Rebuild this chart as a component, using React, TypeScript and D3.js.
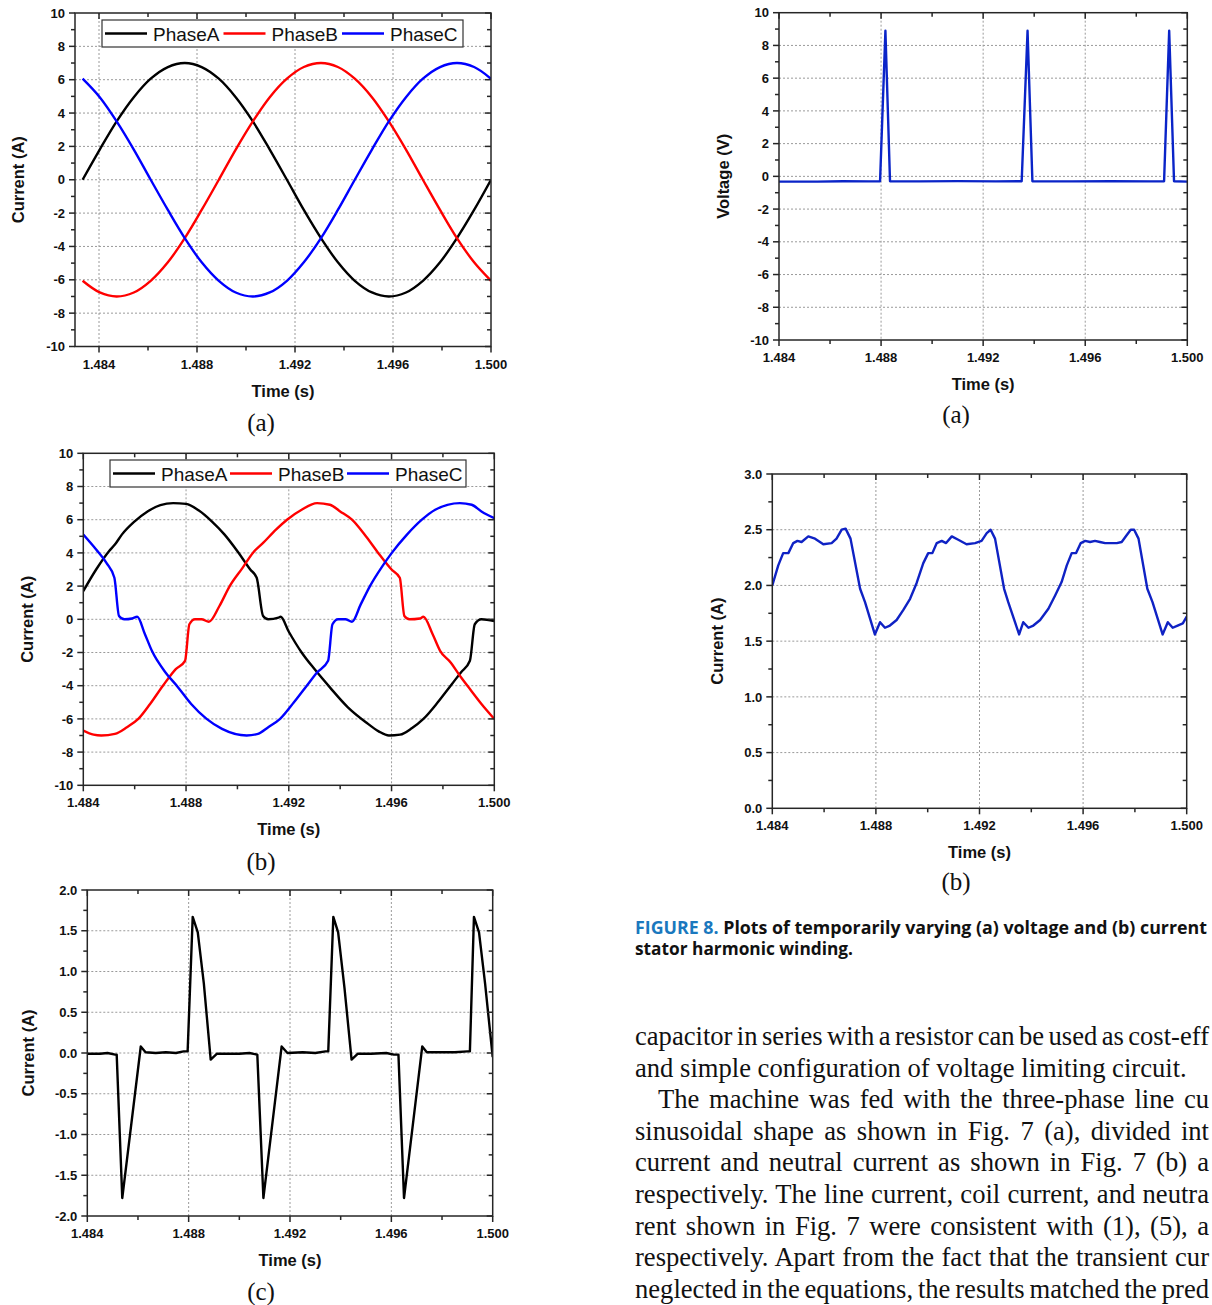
import React, { useLayoutEffect, useRef } from 'react';
import * as d3 from 'd3';

type Pt = [number, number];

// ---------- Fig. 7(a): three-phase line currents (sampled every 15 deg) ----------
const timeA: number[] = [
  1.48333, 1.48403, 1.48472, 1.48542, 1.48611, 1.48681, 1.4875, 1.48819, 1.48889,
  1.48958, 1.49028, 1.49097, 1.49167, 1.49236, 1.49306, 1.49375, 1.49444, 1.49514,
  1.49583, 1.49653, 1.49722, 1.49792, 1.49861, 1.49931, 1.5,
];
const phaseA_a: number[] = [0, 1.81, 3.5, 4.95, 6.06, 6.76, 7, 6.76, 6.06, 4.95, 3.5, 1.81, 0, -1.81, -3.5, -4.95, -6.06, -6.76, -7, -6.76, -6.06, -4.95, -3.5, -1.81, 0];
const phaseB_a: number[] = [-6.06, -6.76, -7, -6.76, -6.06, -4.95, -3.5, -1.81, 0, 1.81, 3.5, 4.95, 6.06, 6.76, 7, 6.76, 6.06, 4.95, 3.5, 1.81, 0, -1.81, -3.5, -4.95, -6.06];
const phaseC_a: number[] = [6.06, 4.95, 3.5, 1.81, 0, -1.81, -3.5, -4.95, -6.06, -6.76, -7, -6.76, -6.06, -4.95, -3.5, -1.81, 0, 1.81, 3.5, 4.95, 6.06, 6.76, 7, 6.76, 6.06];

// ---------- Fig. 7(b): coil currents ----------
const phaseA_b: Pt[] = [
  [1.484, 1.7], [1.4845, 3.0], [1.485, 4.1], [1.48523, 4.5], [1.4855, 5.1], [1.486, 5.9], [1.4865, 6.5],
  [1.487, 6.88], [1.4875, 7.0], [1.488, 6.95], [1.4885, 6.55], [1.489, 5.9], [1.4895, 5.1], [1.49, 4.1],
  [1.4905, 3.0], [1.49075, 2.5], [1.491, 0.2], [1.4912, 0.0], [1.4916, 0.1], [1.49168, 0.15],
  [1.492, -0.75], [1.4925, -2.0], [1.493, -3.0], [1.4936, -4.1], [1.4943, -5.3], [1.495, -6.2],
  [1.4955, -6.75], [1.4959, -7.0], [1.49633, -6.95], [1.4968, -6.55], [1.49724, -6.0], [1.4978, -5.0],
  [1.4983, -4.0], [1.4987, -3.2], [1.49905, -2.5], [1.49924, -0.3], [1.4995, 0.0], [1.5, -0.1],
];
const phaseB_b: Pt[] = [
  [1.484, -6.7], [1.4844, -6.95], [1.4847, -7.0], [1.48523, -6.9], [1.4857, -6.5], [1.48614, -6.0],
  [1.4866, -5.1], [1.4871, -4.0], [1.4876, -3.0], [1.48796, -2.5], [1.48813, -0.3], [1.48835, 0.0],
  [1.4886, 0.0], [1.48889, -0.15], [1.4893, 0.8], [1.4897, 2.0], [1.4902, 3.1], [1.4906, 4.0],
  [1.491, 4.6], [1.4915, 5.4], [1.49193, 6.0], [1.4925, 6.6], [1.4931, 7.0], [1.4936, 6.9],
  [1.494, 6.5], [1.49446, 6.0], [1.495, 5.0], [1.49548, 4.0], [1.496, 3.0], [1.49632, 2.5],
  [1.4965, 0.2], [1.4967, 0.0], [1.4971, 0.05], [1.49724, 0.15], [1.4976, -0.9], [1.49789, -1.9],
  [1.4983, -2.6], [1.49866, -3.4], [1.4991, -4.3], [1.4995, -5.1], [1.5, -6.0],
];
const phaseC_b: Pt[] = [
  [1.484, 5.1], [1.4845, 4.2], [1.4849, 3.4], [1.48521, 2.5], [1.48539, 0.2], [1.4856, 0.0],
  [1.4859, 0.05], [1.4861, 0.15], [1.4864, -0.9], [1.48667, -1.9], [1.4872, -3.2], [1.48764, -4.0],
  [1.4882, -5.1], [1.4888, -6.0], [1.4894, -6.6], [1.49036, -7.0], [1.4908, -6.9], [1.4912, -6.5],
  [1.49166, -6.0], [1.4922, -5.0], [1.4927, -4.0], [1.4931, -3.2], [1.49353, -2.5], [1.4937, -0.3],
  [1.49392, 0.0], [1.4942, 0.0], [1.49446, -0.15], [1.4948, 0.9], [1.49516, 2.0], [1.4956, 3.1],
  [1.49601, 4.0], [1.4966, 5.1], [1.49718, 6.0], [1.4977, 6.6], [1.49866, 7.0], [1.49912, 6.9],
  [1.4995, 6.5], [1.5, 6.1],
];

// ---------- Fig. 7(c): neutral current ----------
const neutral_c: Pt[] = [
  [1.484, -0.01], [1.4845, -0.01], [1.4848, 0.0], [1.4851, -0.02], [1.48516, -0.02], [1.48538, -1.78],
  [1.48611, 0.08], [1.4863, 0.01], [1.4867, 0.0], [1.4871, 0.01], [1.4875, 0.0], [1.4878, 0.02],
  [1.48796, 0.02], [1.48816, 1.67], [1.48836, 1.48], [1.4886, 0.85], [1.48887, -0.08], [1.48911, -0.01],
  [1.4895, -0.01], [1.49, -0.01], [1.4904, 0.0], [1.49071, -0.02], [1.49095, -1.78], [1.49167, 0.08],
  [1.4919, 0.0], [1.4925, 0.01], [1.493, 0.0], [1.4934, 0.02], [1.49351, 0.02], [1.49371, 1.67],
  [1.4939, 1.48], [1.49415, 0.8], [1.49443, -0.08], [1.49467, -0.01], [1.4952, -0.01], [1.4958, 0.0],
  [1.4961, -0.02], [1.49628, -0.02], [1.4965, -1.78], [1.49722, 0.08], [1.4974, 0.01], [1.498, 0.01],
  [1.4985, 0.01], [1.499, 0.02], [1.4991, 0.02], [1.49926, 1.67], [1.49946, 1.48], [1.4997, 0.85],
  [1.5, -0.05],
];

// ---------- Fig. 8(a): harmonic winding voltage ----------
const voltage_8a: Pt[] = [
  [1.484, -0.32], [1.4855, -0.32], [1.4865, -0.3], [1.4875, -0.31], [1.48796, -0.3], [1.48817, 8.9],
  [1.48835, -0.3], [1.4895, -0.31], [1.491, -0.29], [1.4925, -0.31], [1.49351, -0.3], [1.49374, 8.9],
  [1.49393, -0.3], [1.4955, -0.31], [1.497, -0.3], [1.4985, -0.31], [1.49909, -0.3], [1.49929, 8.9],
  [1.49948, -0.3], [1.5, -0.32],
];

// ---------- Fig. 8(b): harmonic winding current ----------
const current_8b: Pt[] = [
  [1.484, 2.0], [1.48423, 2.18], [1.48442, 2.29], [1.48462, 2.29], [1.48481, 2.38], [1.48497, 2.4],
  [1.48513, 2.39], [1.48539, 2.44], [1.48565, 2.42], [1.48597, 2.37], [1.48629, 2.38], [1.48648, 2.42],
  [1.48668, 2.5], [1.48683, 2.51], [1.48702, 2.42], [1.48739, 1.97], [1.48758, 1.85], [1.48796, 1.56],
  [1.48816, 1.67], [1.48835, 1.62], [1.48854, 1.64], [1.4888, 1.69], [1.48906, 1.78], [1.48932, 1.88],
  [1.48957, 2.02], [1.48983, 2.2], [1.49002, 2.29], [1.49018, 2.29], [1.49035, 2.38], [1.49054, 2.4],
  [1.49071, 2.38], [1.49093, 2.44], [1.49118, 2.41], [1.4915, 2.37], [1.49183, 2.38], [1.49208, 2.4],
  [1.49228, 2.47], [1.49243, 2.5], [1.4926, 2.42], [1.49295, 1.97], [1.49311, 1.85], [1.49353, 1.56],
  [1.49369, 1.67], [1.49389, 1.62], [1.49408, 1.64], [1.49434, 1.69], [1.49466, 1.79], [1.49492, 1.91],
  [1.49517, 2.03], [1.49537, 2.18], [1.49556, 2.29], [1.49573, 2.29], [1.49591, 2.38], [1.49608, 2.4],
  [1.49627, 2.39], [1.49646, 2.4], [1.49665, 2.39], [1.49685, 2.38], [1.49704, 2.38], [1.4973, 2.38],
  [1.49749, 2.39], [1.49768, 2.45], [1.49784, 2.5], [1.49797, 2.5], [1.49814, 2.42], [1.49848, 1.97],
  [1.49868, 1.85], [1.49907, 1.56], [1.49927, 1.67], [1.49946, 1.62], [1.49965, 1.64], [1.49985, 1.66],
  [1.5, 1.72],
];

// ---------- ticks & labels ----------
const xMajor: number[] = [1.484, 1.488, 1.492, 1.496, 1.5];
const xMinor: number[] = [1.486, 1.49, 1.494, 1.498];
const yMajor10: number[] = [-10, -8, -6, -4, -2, 0, 2, 4, 6, 8, 10];
const yMinor10: number[] = [-9, -7, -5, -3, -1, 1, 3, 5, 7, 9];
const yMajor2: number[] = [-2, -1.5, -1, -0.5, 0, 0.5, 1, 1.5, 2];
const yMinor2: number[] = [-1.75, -1.25, -0.75, -0.25, 0.25, 0.75, 1.25, 1.75];
const yMajor3: number[] = [0, 0.5, 1, 1.5, 2, 2.5, 3];
const yMinor3: number[] = [0.25, 0.75, 1.25, 1.75, 2.25, 2.75];
const legendLabels: string[] = ['PhaseA', 'PhaseB', 'PhaseC'];
const phaseColors: string[] = ['#000000', '#ff0000', '#0000ff'];

const captionLines: string[] = ['Plots of temporarily varying (a) voltage and (b) current', 'stator harmonic winding.'];
const bodyLines: string[] = [
  'capacitor in series with a resistor can be used as cost-eff',
  'and simple configuration of voltage limiting circuit.',
  'The machine was fed with the three-phase line cu',
  'sinusoidal shape as shown in Fig. 7 (a), divided int',
  'current and neutral current as shown in Fig. 7 (b) a',
  'respectively. The line current, coil current, and neutra',
  'rent shown in Fig. 7 were consistent with (1), (5), a',
  'respectively. Apart from the fact that the transient cur',
  'neglected in the equations, the results matched the pred',
];

const SANS = '"Liberation Sans", Arial, sans-serif';
const SERIF = '"Liberation Serif", "Times New Roman", serif';

const fmtInt = (v: number) => String(v);
const fmt1 = (v: number) => v.toFixed(1);
const fmt3 = (v: number) => v.toFixed(3);

type Series = { data: Pt[]; color: string; curve?: d3.CurveFactory; width?: number };

type ChartProps = {
  id: string;
  x0: number; x1: number; y0: number; y1: number;
  xDomain: [number, number];
  yDomain: [number, number];
  yMajor: number[]; yMinor: number[]; yFmt: (v: number) => string;
  series: Series[];
  yTitle: string; yTitleOff: number;
  legend?: { x: number; y: number; w: number; h: number; pitch: number };
  sub: string; subX: number; subY: number;
};

function Chart(p: ChartProps) {
  const xs = d3.scaleLinear().domain(p.xDomain).range([p.x0, p.x1]);
  const ys = d3.scaleLinear().domain(p.yDomain).range([p.y1, p.y0]);
  const frameStroke = '#262626';
  const gridStroke = '#9a9a9a';
  const inX = (t: number) => xs(t) > p.x0 + 1 && xs(t) < p.x1 - 1;
  const inY = (v: number) => ys(v) > p.y0 + 1 && ys(v) < p.y1 - 1;
  return (
    <g>
      <defs>
        <clipPath id={`clip-${p.id}`}>
          <rect x={p.x0} y={p.y0 - 2} width={p.x1 - p.x0} height={p.y1 - p.y0 + 4} />
        </clipPath>
      </defs>
      {xMajor.filter(inX).map((t) => (
        <line key={`gx${t}`} x1={xs(t)} x2={xs(t)} y1={p.y0} y2={p.y1} stroke={gridStroke} strokeWidth={1} strokeDasharray="2,2" />
      ))}
      {p.yMajor.filter(inY).map((v) => (
        <line key={`gy${v}`} x1={p.x0} x2={p.x1} y1={ys(v)} y2={ys(v)} stroke={gridStroke} strokeWidth={1} strokeDasharray="2,2" />
      ))}
      <g clipPath={`url(#clip-${p.id})`}>
        {p.series.map((s, i) => {
          const gen = d3.line<Pt>().x((d) => xs(d[0])).y((d) => ys(d[1])).curve(s.curve || d3.curveLinear);
          return <path key={i} d={gen(s.data) || ''} fill="none" stroke={s.color} strokeWidth={s.width || 2.4} strokeLinejoin="round" />;
        })}
      </g>
      <rect x={p.x0} y={p.y0} width={p.x1 - p.x0} height={p.y1 - p.y0} fill="none" stroke={frameStroke} strokeWidth={1.5} />
      {xMajor.map((t) => (
        <g key={`xt${t}`}>
          <line x1={xs(t)} x2={xs(t)} y1={p.y1} y2={p.y1 + 6} stroke={frameStroke} strokeWidth={1.5} />
          <line x1={xs(t)} x2={xs(t)} y1={p.y0} y2={p.y0 + 6} stroke={frameStroke} strokeWidth={1.5} />
          <text x={xs(t)} y={p.y1 + 22} textAnchor="middle" fontFamily={SANS} fontWeight="bold" fontSize={13} fill="#111">{fmt3(t)}</text>
        </g>
      ))}
      {xMinor.map((t) => (
        <g key={`xm${t}`}>
          <line x1={xs(t)} x2={xs(t)} y1={p.y1} y2={p.y1 + 4} stroke={frameStroke} strokeWidth={1.5} />
          <line x1={xs(t)} x2={xs(t)} y1={p.y0} y2={p.y0 + 4} stroke={frameStroke} strokeWidth={1.5} />
        </g>
      ))}
      {p.yMajor.map((v) => (
        <g key={`yt${v}`}>
          <line x1={p.x0 - 6} x2={p.x0} y1={ys(v)} y2={ys(v)} stroke={frameStroke} strokeWidth={1.5} />
          <line x1={p.x1 - 6} x2={p.x1} y1={ys(v)} y2={ys(v)} stroke={frameStroke} strokeWidth={1.5} />
          <text x={p.x0 - 10} y={ys(v)} dy="0.36em" textAnchor="end" fontFamily={SANS} fontWeight="bold" fontSize={13} fill="#111">{p.yFmt(v)}</text>
        </g>
      ))}
      {p.yMinor.map((v) => (
        <g key={`ym${v}`}>
          <line x1={p.x0 - 4} x2={p.x0} y1={ys(v)} y2={ys(v)} stroke={frameStroke} strokeWidth={1.5} />
          <line x1={p.x1 - 4} x2={p.x1} y1={ys(v)} y2={ys(v)} stroke={frameStroke} strokeWidth={1.5} />
        </g>
      ))}
      <text x={(p.x0 + p.x1) / 2} y={p.y1 + 50} textAnchor="middle" fontFamily={SANS} fontWeight="bold" fontSize={16.5} fill="#111">Time (s)</text>
      <text transform={`translate(${p.x0 - p.yTitleOff},${(p.y0 + p.y1) / 2}) rotate(-90)`} dy="0.36em" textAnchor="middle" fontFamily={SANS} fontWeight="bold" fontSize={16.5} fill="#111">{p.yTitle}</text>
      {p.legend && (
        <g>
          <rect x={p.legend.x} y={p.legend.y} width={p.legend.w} height={p.legend.h} fill="#fff" stroke="#333" strokeWidth={1.2} />
          {legendLabels.map((lab, i) => {
            const lx = p.legend!.x + 3 + i * p.legend!.pitch;
            const cy = p.legend!.y + p.legend!.h / 2;
            return (
              <g key={lab}>
                <line x1={lx} x2={lx + 42} y1={cy} y2={cy} stroke={phaseColors[i]} strokeWidth={2.5} />
                <text x={lx + 48} y={cy + 7} fontFamily={SANS} fontSize={19} fill="#111">{lab}</text>
              </g>
            );
          })}
        </g>
      )}
      <text x={p.subX} y={p.subY} textAnchor="middle" fontFamily={SERIF} fontSize={25} fill="#111">{p.sub}</text>
    </g>
  );
}

function BodyText() {
  const ref = useRef<SVGGElement>(null);
  useLayoutEffect(() => {
    const apply = () => {
      const g = ref.current;
      if (!g) return;
      g.querySelectorAll('text[data-end]').forEach((node) => {
        const el = node as SVGTextElement;
        el.style.wordSpacing = '0px';
        const w = el.getComputedTextLength();
        const x = Number(el.getAttribute('x'));
        const end = Number(el.getAttribute('data-end'));
        const spaces = ((el.textContent || '').match(/ /g) || []).length;
        if (spaces > 0) el.style.wordSpacing = `${(end - x - w) / spaces}px`;
      });
    };
    apply();
    if ((document as any).fonts && (document as any).fonts.ready) (document as any).fonts.ready.then(apply);
  }, []);
  const baseY = 1045;
  const lh = 31.6;
  return (
    <g ref={ref}>
      {bodyLines.map((s, i) => {
        const x = i === 2 ? 658 : 635;
        const justified = i !== 1;
        return (
          <text key={i} x={x} y={baseY + i * lh} fontFamily={SERIF} fontSize={26.6} fill="#111" {...(justified ? { 'data-end': 1209 } : {})}>
            {s}
          </text>
        );
      })}
    </g>
  );
}

export default function App() {
  const abc = (vals: number[]): Pt[] => timeA.map((t, i) => [t, vals[i]] as Pt);
  return (
    <svg width={1212} height={1305} style={{ position: 'absolute', left: 0, top: 0, background: '#fff' }} xmlns="http://www.w3.org/2000/svg">
      <rect x={0} y={0} width={1212} height={1305} fill="#fff" />
      <Chart
        id="a7" x0={75} x1={491} y0={13} y1={346.5} xDomain={[1.48302, 1.5]} yDomain={[-10, 10]}
        yMajor={yMajor10} yMinor={yMinor10} yFmt={fmtInt}
        series={[
          { data: abc(phaseA_a), color: phaseColors[0], curve: d3.curveCatmullRom },
          { data: abc(phaseB_a), color: phaseColors[1], curve: d3.curveCatmullRom },
          { data: abc(phaseC_a), color: phaseColors[2], curve: d3.curveCatmullRom },
        ]}
        yTitle="Current (A)" yTitleOff={57}
        legend={{ x: 102, y: 20, w: 361, h: 27, pitch: 118.5 }}
        sub="(a)" subX={261} subY={431}
      />
      <Chart
        id="b7" x0={83.3} x1={494.3} y0={453.3} y1={785.3} xDomain={[1.484, 1.5]} yDomain={[-10, 10]}
        yMajor={yMajor10} yMinor={yMinor10} yFmt={fmtInt}
        series={[
          { data: phaseA_b, color: phaseColors[0], curve: d3.curveMonotoneX },
          { data: phaseB_b, color: phaseColors[1], curve: d3.curveMonotoneX },
          { data: phaseC_b, color: phaseColors[2], curve: d3.curveMonotoneX },
        ]}
        yTitle="Current (A)" yTitleOff={56}
        legend={{ x: 110, y: 460, w: 356, h: 27, pitch: 117 }}
        sub="(b)" subX={261} subY={870}
      />
      <Chart
        id="c7" x0={87.3} x1={492.7} y0={890} y1={1216} xDomain={[1.484, 1.5]} yDomain={[-2, 2]}
        yMajor={yMajor2} yMinor={yMinor2} yFmt={fmt1}
        series={[{ data: neutral_c, color: '#000000' }]}
        yTitle="Current (A)" yTitleOff={59}
        sub="(c)" subX={261} subY={1300}
      />
      <Chart
        id="a8" x0={779} x1={1187.3} y0={12.7} y1={340} xDomain={[1.484, 1.5]} yDomain={[-10, 10]}
        yMajor={yMajor10} yMinor={yMinor10} yFmt={fmtInt}
        series={[{ data: voltage_8a, color: '#0a24c8' }]}
        yTitle="Voltage (V)" yTitleOff={56}
        sub="(a)" subX={956} subY={423}
      />
      <Chart
        id="b8" x0={772.3} x1={1186.7} y0={474} y1={808.3} xDomain={[1.484, 1.5]} yDomain={[0, 3]}
        yMajor={yMajor3} yMinor={yMinor3} yFmt={fmt1}
        series={[{ data: current_8b, color: '#0f22c4' }]}
        yTitle="Current (A)" yTitleOff={55}
        sub="(b)" subX={956} subY={890}
      />
      <text x={635} y={934} fontFamily='"Open Sans", "Noto Sans", sans-serif' fontWeight="bold" fontSize={17} textLength={572} lengthAdjust="spacingAndGlyphs" fill="#111">
        <tspan fill="#1a78be">FIGURE 8.</tspan>
        <tspan>{'  ' + captionLines[0]}</tspan>
      </text>
      <text x={635} y={955} fontFamily='"Open Sans", "Noto Sans", sans-serif' fontWeight="bold" fontSize={17} textLength={218} lengthAdjust="spacingAndGlyphs" fill="#111">
        {captionLines[1]}
      </text>
      <BodyText />
    </svg>
  );
}
